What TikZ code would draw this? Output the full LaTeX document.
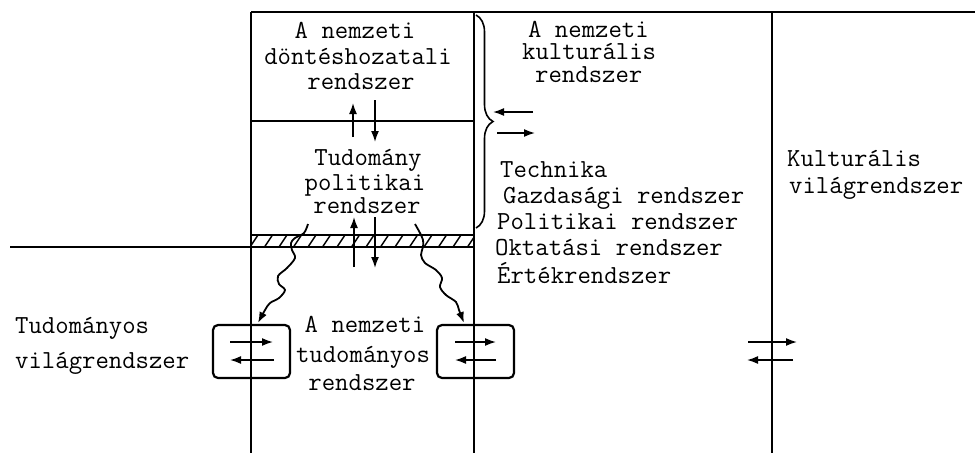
\documentclass[tikz,border=0pt]{standalone}
\usetikzlibrary{arrows.meta,decorations.pathreplacing}
\begin{document}
\begin{tikzpicture}[x=1pt,y=-1pt,
  txt/.style={font=\fontsize{26}{27}\selectfont\ttfamily, inner sep=0pt, anchor=base},
  txtw/.style={txt, anchor=base west},
  frame/.style={line width=2.1pt},
  arr/.style={line width=1.6pt,-{Latex[length=11pt,width=8pt]}},
  wavy/.style={line width=1.8pt,-{Latex[length=11pt,width=8pt]}},
  smallbox/.style={draw, line width=2.2pt, rounded corners=5pt, minimum width=77pt, minimum height=53pt, inner sep=0pt}]
\useasboundingbox (0,0) rectangle (975,453);
% frame
\draw[frame] (251,12) -- (975,12);
\draw[frame] (251,12) -- (251,453);
\draw[frame] (474,12) -- (474,453);
\draw[frame] (772,12) -- (772,453);
\draw[frame] (251,121) -- (474,121);
\draw[frame] (251,235) -- (474,235);
\draw[frame] (10,247) -- (474,247);
\begin{scope}
  \clip (251,235) rectangle (474,247);
  \foreach \x in {250,264.5,...,490} \draw[line width=1.4pt] (\x,247) -- (\x+8,235);
\end{scope}
% brace
\draw[line width=1.6pt, decorate, decoration={brace, amplitude=17pt}] (476,15) -- (476,228);
% texts
\node[txt] (t1) at (355,38) {A nemzeti};
\node[txt] (t2) at (358,64) {döntéshozatali};
\node[txt] (t3) at (361,89) {rendszer};
\node[txt] (p1) at (368,165) {Tudomány};
\node[txt] (p2) at (365,190) {politikai};
\node[txt] (p3) at (367,213) {rendszer};
\node[txt] (n1) at (365,332) {A nemzeti};
\node[txt] (n2) at (363,362) {tudományos};
\node[txt] (n3) at (362,390) {rendszer};
\node[txtw] (w1) at (15,333) {Tudományos};
\node[txtw] (w2) at (15,368) {világrendszer};
\node[txtw] (k1) at (528,37) {A nemzeti};
\node[txtw] (k2) at (522,59) {kulturális};
\node[txtw] (k3) at (535,82) {rendszer};
\node[txtw] (l1) at (500,177) {Technika};
\node[txtw] (l2) at (503,203) {Gazdasági rendszer};
\node[txtw] (l3) at (497,229) {Politikai rendszer};
\node[txtw] (l4) at (495,255) {Oktatási rendszer};
\node[txtw] (l5) at (497,283) {Értékrendszer};
\node[txtw] (v1) at (787,166) {Kulturális};
\node[txtw] (v2) at (789,193) {világrendszer};
% small boxes
\node[smallbox] (lb) at (251.5,351.5) {};
\node[smallbox] (rb) at (475.5,351.5) {};
\draw[arr] ([shift={(-21.5,-9.5)}]lb.center) -- ([shift={(21.5,-9.5)}]lb.center);
\draw[arr] ([shift={(22.5,8.5)}]lb.center) -- ([shift={(-21.5,8.5)}]lb.center);
\draw[arr] ([shift={(-20.5,-9.5)}]rb.center) -- ([shift={(20.5,-9.5)}]rb.center);
\draw[arr] ([shift={(20.5,8.5)}]rb.center) -- ([shift={(-20.5,8.5)}]rb.center);
% arrows between boxes
\coordinate (u1a) at (353,137); \coordinate (u1b) at (353,103);
\coordinate (d1a) at (375,100); \coordinate (d1b) at (375,142);
\coordinate (u2a) at (354,267); \coordinate (u2b) at (354,217);
\coordinate (d2a) at (375,217); \coordinate (d2b) at (375,268);
\draw[arr] (u1a) -- (u1b);
\draw[arr] (d1a) -- (d1b);
\draw[arr] (u2a) -- (u2b);
\draw[arr] (d2a) -- (d2b);
% brace arrows
\coordinate (ba1) at (533,112); \coordinate (ba2) at (493,112);
\coordinate (bb1) at (497,133); \coordinate (bb2) at (535,133);
\draw[arr] (ba1) -- (ba2);
\draw[arr] (bb1) -- (bb2);
% right arrows
\coordinate (ra1) at (748,342); \coordinate (ra2) at (797,342);
\coordinate (rc1) at (793,360); \coordinate (rc2) at (747,360);
\draw[arr] (ra1) -- (ra2);
\draw[arr] (rc1) -- (rc2);
% wavy arrows
\draw[wavy] plot[smooth, tension=0.55] coordinates {(308,224) (304,233) (295,238) (291,243) (292,250) (295,258) (287,268) (278,276) (279,284) (285,290) (279,298) (270,303) (265,310) (258,323)};
\draw[wavy] plot[smooth, tension=0.55] coordinates {(415,224) (420,233) (423,240) (423,247) (421,255) (425,263) (436,270) (442,278) (440,287) (446,295) (456,302) (459,310) (464,323)};
\end{tikzpicture}
\end{document}
